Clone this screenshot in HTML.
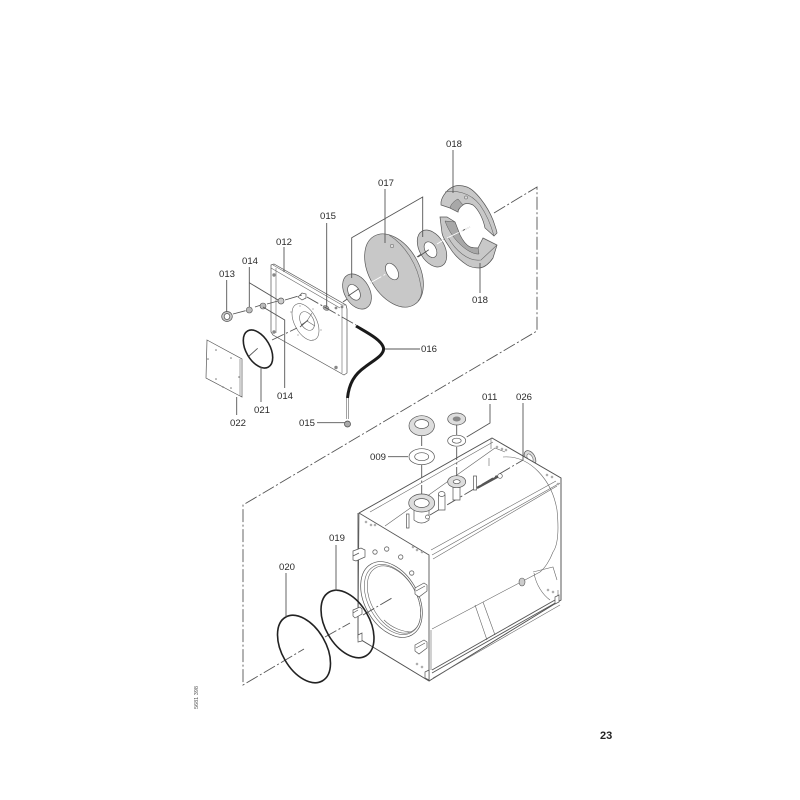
<!DOCTYPE html>
<html><head><meta charset="utf-8"><style>
html,body{margin:0;padding:0;background:#fff}
svg{display:block;filter:blur(.3px)}
text{font-family:"Liberation Sans",sans-serif;font-size:9.6px;fill:#2a2a2a}
.l{stroke:#555;stroke-width:.9;fill:none}
.t{stroke:#666;stroke-width:.6;fill:none}
.g{fill:#c8c8c8;stroke:#555;stroke-width:.7}
.s{fill:#a8a8a8;stroke:#555;stroke-width:.5}
.w{fill:#fff;stroke:#555;stroke-width:.7}
.d{stroke:#555;stroke-width:.9;fill:none;stroke-dasharray:13 2.5 2 2.5}
.k{fill:none;stroke:#222;stroke-width:1.6}
</style></head><body>
<svg width="800" height="800" viewBox="0 0 800 800" xmlns="http://www.w3.org/2000/svg">
<rect width="800" height="800" fill="#fff"/>

<!-- dash-dot frame -->
<path class="d" d="M494 213L537 187V331L243 505V685L304 649"/>
<path class="d" d="M325 637L350 623M363 615L392 598"/>

<!-- plate 012 -->
<path class="w" d="M271 265L274 264L346 305L347 309V373L344 375L273 335L271 332Z"/>
<path class="t" d="M273 265L342 305V373M271 268L340 308M342 305L346 305M276 268V333"/>
<ellipse class="t" cx="305.500" cy="322" rx="11" ry="20" transform="rotate(-28 305.500 322)"/>
<ellipse class="t" cx="307" cy="321" rx="6.500" ry="10" transform="rotate(-28 307 321)"/>
<path class="t" d="M307 321L312 313M307 321L315 326M307 321L301 325"/>
<g fill="#888"><circle cx="274" cy="275" r="1.700"/><circle cx="274" cy="332" r="1.700"/><circle cx="336" cy="367.500" r="1.700"/><circle cx="336" cy="308" r="1.400"/><circle cx="342" cy="307" r="1.400"/>
<circle cx="291" cy="312" r=".6"/><circle cx="298" cy="335" r=".6"/><circle cx="313" cy="340" r=".6"/><circle cx="321" cy="330" r=".6"/><circle cx="313" cy="309" r=".6"/><circle cx="300" cy="306" r=".6"/></g>
<path class="w" d="M298 297L302 293L306 294L306 298L302 300Z"/>
<ellipse cx="326" cy="308" rx="3.200" ry="2.200" fill="#aaa" stroke="#666" stroke-width=".5" transform="rotate(30 326 308)"/>

<!-- axes around plate -->
<path class="d" d="M233 314L248 310M255 307L261 305M267 304L278 301M285 300L302 295M307 297L356 325"/>
<path class="d" d="M248 357L258 348M272 340L297 328M300 327L308 320M343 302L350 297M350 293L356 290M370 283L393 270M417 257L430 248M443 240L470 227"/>

<!-- small parts -->
<ellipse class="g" cx="227" cy="316.500" rx="5.300" ry="5"/><ellipse class="w" cx="227" cy="316.500" rx="2.800" ry="3"/>
<circle cx="249.300" cy="310" r="3" fill="#bbb" stroke="#555" stroke-width=".6"/>
<circle cx="263" cy="306" r="3" fill="#bbb" stroke="#555" stroke-width=".6"/>
<circle cx="281" cy="301" r="3" fill="#ccc" stroke="#555" stroke-width=".7"/>

<!-- gasket 022 -->
<path class="w" d="M207 340L242 359V397L240 396L206 378Z" stroke-width="1"/>
<path class="t" d="M240 359V396"/>
<g fill="#777"><circle cx="216" cy="350" r=".8"/><circle cx="231" cy="358" r=".8"/><circle cx="208" cy="359" r=".8"/><circle cx="239" cy="377" r=".8"/><circle cx="216" cy="379" r=".8"/><circle cx="223" cy="387" r=".8"/><circle cx="231" cy="388" r=".8"/></g>

<!-- ring 021 -->
<ellipse class="k" cx="258" cy="349" rx="12" ry="20.800" transform="rotate(-30 258 349)"/>

<!-- hose 016 -->
<path d="M356 326C366 332 382 340 383.500 348C384.500 355 374 360 365 367C355 374 349 383 347.500 398" fill="none" stroke="#1a1a1a" stroke-width="3"/>
<path class="t" d="M346.500 398V419M348.500 398V419"/>
<circle cx="347.500" cy="424" r="3" fill="#aaa" stroke="#444" stroke-width=".7"/>

<!-- washer left -->
<ellipse class="g" cx="357" cy="291.500" rx="12.500" ry="19" transform="rotate(-30 357 291.500)"/>
<ellipse class="w" cx="354" cy="292.300" rx="5.500" ry="8.500" transform="rotate(-30 354 292.300)"/>
<path class="d" d="M348 296L360 288"/>

<!-- big disk 017 -->
<ellipse class="g" cx="394" cy="270.500" rx="25" ry="39.700" transform="rotate(-30 394 270.500)"/>
<path class="t" d="M389 235C405 245 418 265 421 287C422 293 421 298 418 301"/>
<ellipse class="w" cx="392" cy="271.500" rx="5.500" ry="9" transform="rotate(-30 392 271.500)"/>
<circle cx="392" cy="246" r="1.800" fill="#ddd" stroke="#555" stroke-width=".5"/>
<path class="d" d="M370 283L393 270" style="stroke:#fff"/>

<!-- washer right -->
<ellipse class="g" cx="432" cy="248.500" rx="12.500" ry="20" transform="rotate(-30 432 248.500)"/>
<ellipse class="w" cx="430.500" cy="249.700" rx="5.500" ry="8.500" transform="rotate(-30 430.500 249.700)"/>
<path class="d" d="M418 257L430 249" style="stroke:#555"/>
<path class="d" d="M437 244L447 238" style="stroke:#fff"/>

<!-- half rings 018 -->
<path class="g" d="M441 202C442 196 448 188 455 186C459 185 464 186 467 187C475 190 487 205 493 220C495 226 497 231 497 233L494 236L485 228C483 218 478 209 473 205C469 203 465 203 463 205C460 207 458 210 458 212L450 208L441 205Z"/>
<path class="s" d="M450 208L458 212C458 209 460 207 463 205L458 199C454 201 451 204 450 208Z"/>
<path class="t" d="M445 192C455 190 470 192 480 205C487 215 491 225 494 236"/>
<circle cx="466" cy="197.500" r="1.600" fill="#ddd" stroke="#555" stroke-width=".5"/>
<path class="g" d="M440 217H447L455 222L460 235C463 241 466 245 470 247C473 248 476 248 478 248L483 238L497 245L493 258C489 264 485 267 480 268C475 268 470 267 467 265C458 259 453 253 450 248C446 242 443 238 442 233Z"/>
<path class="s" d="M445 221L455 222L460 235C463 241 466 245 470 247C473 248 476 248 478 248L479 254C470 255 452 241 445 221Z"/>
<path class="t" d="M448 237C455 250 468 262 481 260L497 245M483 238L497 245"/>
<path class="d" d="M447 238L470 227" style="stroke:#fff"/>

<!-- boss behind tank 026 -->
<ellipse cx="530" cy="458" rx="5" ry="8" fill="#ddd" stroke="#555" stroke-width=".7" transform="rotate(-30 530 458)"/>
<ellipse cx="530" cy="458" rx="2.500" ry="4.500" fill="#fff" stroke="#555" stroke-width=".5" transform="rotate(-30 530 458)"/>

<!-- tank body -->
<path class="w" d="M359 513L492 438L561 478V600L429 681L358 638Z"/>
<path class="t" d="M370 512L493 442M385 526L495 448L505 452M431 550L556 481M432 555L560 483M433 559L557 486"/>
<path class="l" d="M359 513L429 555V681L358 638V513"/>
<path class="l" d="M359 513L492 438L561 478V600L429 681"/>
<path class="t" d="M491 439V449M489 458V466"/>
<path class="t" d="M503 457C530 455 552 480 557 510C559 530 558 545 553 552C550 560 545 568 540 572L432 629"/>
<path class="t" d="M533 572L553 567L557 580M534 573C536 585 543 595 550 600"/>
<path class="t" d="M475 605L487 640M483 602L495 635"/>
<path class="l" d="M432 670L555 600M432 673L557 602"/>
<path class="t" d="M433 678L560 605"/>
<path class="t" d="M431 670V630M558 596V590"/>
<ellipse cx="522" cy="582" rx="3" ry="4" fill="#ccc" stroke="#555" stroke-width=".6"/>

<!-- axes over tank -->
<path class="d" d="M430 515L523 460"/>
<path class="d" d="M421.700 433V450M421.700 465V497M456.700 423V435M456.700 447V477"/>

<!-- port holes top -->
<g fill="#fff" stroke="#666" stroke-width=".5"><circle cx="366" cy="522" r="1"/><circle cx="371" cy="525" r="1"/><circle cx="375" cy="525" r="1"/><circle cx="413" cy="547" r="1"/><circle cx="417" cy="550" r="1"/><circle cx="422" cy="552" r="1"/><circle cx="497" cy="447" r="1"/><circle cx="502" cy="449" r="1"/><circle cx="506" cy="450" r="1"/><circle cx="547" cy="475" r="1"/><circle cx="552" cy="477" r="1"/><circle cx="558" cy="484" r="1"/><circle cx="417" cy="664" r="1"/><circle cx="422" cy="667" r="1"/><circle cx="548" cy="590" r="1"/><circle cx="553" cy="592" r="1"/></g>
<g fill="#fff" stroke="#666" stroke-width=".8"><circle cx="375" cy="552" r="2.200"/><circle cx="386.700" cy="549" r="2.200"/><circle cx="400.700" cy="557" r="2.200"/><circle cx="411.700" cy="573" r="2.200"/></g>

<!-- round front opening -->
<ellipse class="w" cx="391.500" cy="599.500" rx="26.600" ry="40.900" transform="rotate(-30 391.500 599.500)"/>
<ellipse class="t" cx="392.500" cy="599.500" rx="24" ry="38" transform="rotate(-30 392.500 599.500)"/>
<ellipse class="t" cx="394" cy="599.500" rx="22.500" ry="36.500" transform="rotate(-30 394 599.500)"/>
<path class="t" d="M384 620C392 628 403 632 412 632"/>
<path class="d" d="M363 615L392 598"/>

<!-- brackets -->
<g fill="#fff" stroke="#555" stroke-width=".7">
<path d="M353 551L361 548L365 550V557L356 561L353 560Z"/>
<path d="M353 610L360 607L362 609V614L355 618L353 616Z"/>
<path d="M415 588L424 583L427 585V591L419 597L415 594Z"/>
<path d="M415 645L424 640L427 642V648L419 654L415 651Z"/>
<path d="M358 635L362 633V641L358 642Z"/>
<path d="M425 672L429 670V680L425 678Z"/>
<path d="M555 597L559 595V602L555 604Z"/>
</g>
<path d="M353 556L359 553M353 613L358 610M416 591L425 586M416 648L425 643" stroke="#555" stroke-width=".7"/>

<!-- top fittings -->
<ellipse class="g" cx="421.700" cy="425.700" rx="12.700" ry="10" style="fill:#ddd"/><ellipse class="w" cx="421.700" cy="424" rx="7" ry="4.500"/>
<ellipse class="w" cx="421.700" cy="456.700" rx="12.700" ry="8" stroke-width="1"/><ellipse class="w" cx="421.700" cy="456.700" rx="7" ry="4"/>
<ellipse class="g" cx="456.700" cy="419" rx="9" ry="6" style="fill:#ddd"/><ellipse cx="456.700" cy="419" rx="4" ry="2.500" fill="#888"/>
<ellipse class="w" cx="456.700" cy="440.700" rx="9" ry="5.500" stroke-width="1"/><ellipse class="w" cx="456.700" cy="440.700" rx="4.500" ry="2.500"/>
<path class="w" d="M414 505V520Q421.500 526 429 520V505Z"/>
<ellipse class="g" cx="421.700" cy="503" rx="13" ry="9" style="fill:#ddd"/><ellipse class="w" cx="421.700" cy="503" rx="7.500" ry="4.500"/>
<path class="w" d="M453 485H460V500H453Z"/>
<ellipse class="g" cx="456.700" cy="481.700" rx="9" ry="6" style="fill:#ddd"/><ellipse class="w" cx="456.700" cy="481.700" rx="3.500" ry="2"/>
<path class="w" d="M438.500 495H445V510H438.500Z"/><ellipse class="w" cx="441.700" cy="494" rx="3.300" ry="2.500"/>
<path class="w" d="M406.500 514H409V528H406.500Z"/>
<path class="w" d="M473.500 476H476.500V490H473.500Z"/>
<path d="M477 488L499 476" stroke="#555" stroke-width="2.200" fill="none"/>
<circle cx="500" cy="476" r="2.300" fill="#fff" stroke="#555" stroke-width=".7"/>
<circle cx="427.500" cy="517" r="2" fill="#fff" stroke="#555" stroke-width=".7"/>

<!-- O rings -->
<ellipse class="k" cx="304" cy="649" rx="22" ry="36.800" transform="rotate(-30 304 649)"/>
<ellipse class="k" cx="347.500" cy="624" rx="22" ry="36.800" transform="rotate(-30 347.500 624)"/>

<!-- leader lines -->
<g class="l">
<path d="M453 150V193M480 263V293M385 189V243M351.700 278V237.700L422.700 197V237"/>
<path d="M326.700 223V307M284 247V272M249.300 267V307M226.700 280V312"/>
<path d="M249.300 282.700L278 300M263 307L284.700 320V388M261 367V402M236.700 397V415"/>
<path d="M385 349H420M317 422.700H345"/>
<path d="M388 456.700H408M490 404V423L466.700 437M523 403V460"/>
<path d="M336 545V591M286 573V617"/>
</g>

<!-- labels -->
<text x="446" y="147">018</text>
<text x="378" y="186">017</text>
<text x="320" y="219">015</text>
<text x="276" y="245">012</text>
<text x="242" y="264">014</text>
<text x="219" y="277">013</text>
<text x="472" y="303">018</text>
<text x="421" y="352">016</text>
<text x="277" y="399">014</text>
<text x="254" y="413">021</text>
<text x="230" y="426">022</text>
<text x="299" y="426">015</text>
<text x="482" y="400">011</text>
<text x="516" y="400">026</text>
<text x="370" y="460">009</text>
<text x="329" y="541">019</text>
<text x="279" y="570">020</text>
<text x="600" y="739" style="font-size:11px;font-weight:bold;fill:#222">23</text>
<text transform="translate(198 709) rotate(-90)" style="font-size:5.500px;fill:#555">5681 398</text>
</svg>
</body></html>
